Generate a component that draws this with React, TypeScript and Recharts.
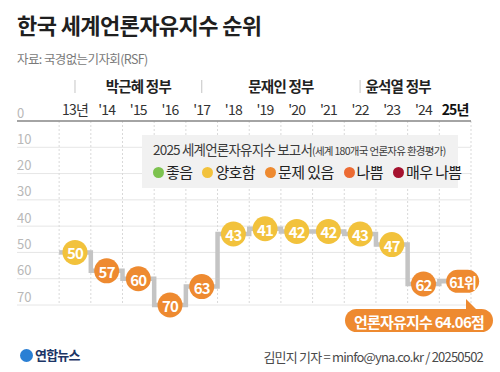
import React from 'react';
import { LineChart, Line, XAxis, YAxis, CartesianGrid, ReferenceLine } from 'recharts';

const years = ['13년', "'14", "'15", "'16", "'17", "'18", "'19", "'20", "'21", "'22", "'23", "'24", '25년'];
const ranks = [50, 57, 60, 70, 63, 43, 41, 42, 42, 43, 47, 62, 61];
const gradeIndex = [1, 2, 2, 2, 2, 1, 1, 1, 1, 1, 1, 2, 2];
const gradeNames = ['좋음', '양호함', '문제 있음', '나쁨', '매우 나쁨'];
const gradeColors = ['#7dc24f', '#f2c23c', '#ee8a30', '#ec6b33', '#a5122f'];
const yTicks = [0, 10, 20, 30, 40, 50, 60, 70];
const governments = [
  { name: '박근혜 정부', start: 0, end: 4 },
  { name: '문재인 정부', start: 4, end: 9 },
  { name: '윤석열 정부', start: 9, end: 11.4 },
];
const lastSuffix = '위';
const scoreText = '언론자유지수 64.06점';

const FONT = "'Noto Sans CJK KR', 'Noto Sans', sans-serif";

const data = years.map((year, i) => ({ i, year, rank: ranks[i], grade: gradeIndex[i] }));
const gridXs = years.map((_, i) => i - 0.5).concat([years.length - 0.5]);
const govTicks: number[] = [];
governments.forEach((g) => {
  govTicks.push(g.start);
  govTicks.push((g.start + g.end) / 2);
});

const YearTick = (props: any) => {
  const { x, payload } = props;
  const idx = payload.value as number;
  const last = idx === years.length - 1;
  return (
    <text x={x} y={115} textAnchor="middle" fill={last ? '#111' : '#333'} fontSize={14}
      fontWeight={last ? 700 : 400} fontFamily={FONT} letterSpacing={-0.8}>
      {years[idx]}
    </text>
  );
};

const GovTick = (props: any) => {
  const { x, payload } = props;
  const v = payload.value as number;
  const gStart = governments.find((g) => g.start === v);
  if (gStart) {
    return <line x1={x} x2={x} y1={80} y2={93} stroke="#cfcfcf" strokeWidth={1.2} />;
  }
  const g = governments.find((gg) => (gg.start + gg.end) / 2 === v);
  if (!g) return null;
  return (
    <text x={x} y={92} textAnchor="middle" fill="#222" fontSize={14.5} fontWeight={700}
      fontFamily={FONT} letterSpacing={-0.8}>
      {g.name}
    </text>
  );
};

const RankTick = (props: any) => {
  const { y, payload } = props;
  return (
    <text x={17} y={y - 3.5} textAnchor="start" fill="#b8b8b8" fontSize={13} fontFamily={FONT}>
      {payload.value}
    </text>
  );
};

const RankDot = (props: any) => {
  const { cx, cy, index, payload } = props;
  const color = gradeColors[payload.grade];
  if (index === ranks.length - 1) {
    return (
      <g key={`d${index}`}>
        <rect x={cx - 9} y={cy - 11.5} width={33} height={23} rx={11.5} fill={color} />
        <text x={cx + 7.5} y={cy + 0.5} textAnchor="middle" dominantBaseline="central" fill="#fff"
          fontSize={14} fontWeight={700} fontFamily={FONT} letterSpacing={-0.8}>
          {payload.rank}{lastSuffix}
        </text>
      </g>
    );
  }
  return (
    <g key={`d${index}`}>
      <circle cx={cx} cy={cy} r={12.5} fill={color} />
      <text x={cx} y={cy + 0.5} textAnchor="middle" dominantBaseline="central" fill="#fff"
        fontSize={15} fontWeight={700} fontFamily={FONT} letterSpacing={-0.8}>
        {payload.rank}
      </text>
    </g>
  );
};

export default function App() {
  return (
    <div style={{ position: 'absolute', left: 0, top: 0, width: 500, height: 372, background: '#fff', fontFamily: FONT, overflow: 'hidden' }}>
      <div style={{ position: 'absolute', left: 0, top: 0 }}>
        <LineChart width={500} height={372} data={data} margin={{ top: 61, right: 29, bottom: 67, left: 0 }}>
          <CartesianGrid vertical={false} stroke="#e6e6e6" strokeWidth={1} />
          <XAxis xAxisId={0} dataKey="i" type="number" orientation="top" domain={[-1.83, 12.5]}
            ticks={years.map((_, i) => i)} interval={0} height={30} tickLine={false}
            axisLine={{ stroke: '#8a8a8a', strokeWidth: 1.5 }} tick={<YearTick />} />
          <XAxis xAxisId="gov" dataKey="i" type="number" orientation="top" domain={[-1.83, 12.5]}
            ticks={govTicks} interval={0} height={30} tickLine={false} axisLine={false} tick={<GovTick />} />
          <YAxis yAxisId={0} type="number" domain={[0, 70]} reversed ticks={yTicks} interval={0} width={17}
            axisLine={false} tickLine={false} tick={<RankTick />} />
          {gridXs.map((gx) => (
            <ReferenceLine key={`gx${gx}`} x={gx} xAxisId={0} yAxisId={0} stroke="#d9d9d9" strokeDasharray="2 2" strokeWidth={1} />
          ))}
          <ReferenceLine xAxisId={0} yAxisId={0} segment={[{ x: -0.5, y: ranks[0] }, { x: 0, y: ranks[0] }]}
            stroke="#c4c4c4" strokeWidth={4.5} />
          <Line xAxisId={0} yAxisId={0} dataKey="rank" type="step" stroke="#c4c4c4" strokeWidth={4.5} dot={<RankDot />}
            activeDot={false} isAnimationActive={false} />
        </LineChart>
      </div>

      <div style={{ position: 'absolute', left: 17, top: 9, fontSize: 22, fontWeight: 700, color: '#1f1f1f', letterSpacing: -0.6, whiteSpace: 'nowrap', lineHeight: '30px' }}>
        한국 세계언론자유지수 순위
      </div>
      <div style={{ position: 'absolute', left: 17, top: 50, fontSize: 12.5, color: '#7a7a7a', letterSpacing: -0.6, whiteSpace: 'nowrap', lineHeight: '18px' }}>
        자료: 국경없는기자회(RSF)
      </div>

      <div style={{ position: 'absolute', left: 142, top: 135, width: 316, height: 53, background: '#f1f1f1' }}>
        <div style={{ position: 'absolute', left: 11, top: 5, whiteSpace: 'nowrap', color: '#3a3a3a', fontSize: 13.5, letterSpacing: -0.8, lineHeight: '18px' }}>
          2025 세계언론자유지수 보고서<span style={{ fontSize: 10.5, letterSpacing: -0.7 }}>(세계 180개국 언론자유 환경평가)</span>
        </div>
        <div style={{ position: 'absolute', left: 11, top: 27, display: 'flex', alignItems: 'center', whiteSpace: 'nowrap', fontSize: 15, color: '#222', letterSpacing: -0.6, lineHeight: '20px' }}>
          {gradeNames.map((n, k) => (
            <span key={n} style={{ display: 'flex', alignItems: 'center', marginRight: 10 }}>
              <span style={{ display: 'inline-block', width: 11, height: 11, borderRadius: 6, background: gradeColors[k], marginRight: 2 }} />
              {n}
            </span>
          ))}
        </div>
      </div>

      <svg style={{ position: 'absolute', left: 0, top: 0 }} width={500} height={372}>
        <path d="M466,299 L466,312 L479,312 Z" fill={gradeColors[2]} />
        <rect x={345} y={309} width={148} height={23} rx={11.5} fill={gradeColors[2]} />
        <text x={419} y={321} textAnchor="middle" dominantBaseline="central" fill="#fff" fontSize={15} fontWeight={700} fontFamily={FONT} letterSpacing={-0.8}>
          {scoreText}
        </text>
      </svg>

      <div style={{ position: 'absolute', left: 20, top: 347, display: 'flex', alignItems: 'center', whiteSpace: 'nowrap' }}>
        <span style={{ display: 'inline-block', width: 13, height: 13, borderRadius: 7, background: '#2a7fd4', marginRight: 2 }} />
        <span style={{ fontSize: 13, fontWeight: 700, color: '#1c3566', letterSpacing: -0.8, lineHeight: '16px' }}>연합뉴스</span>
      </div>
      <div style={{ position: 'absolute', right: 17, top: 348, whiteSpace: 'nowrap', fontSize: 13, color: '#4a4a4a', letterSpacing: -0.8, lineHeight: '18px' }}>
        김민지 기자 = minfo@yna.co.kr / 20250502
      </div>
    </div>
  );
}
